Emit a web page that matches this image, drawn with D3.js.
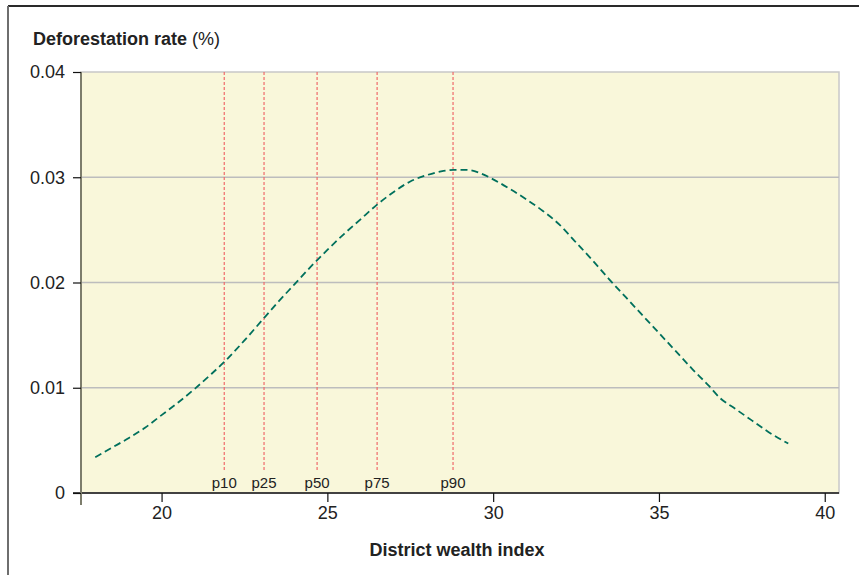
<!DOCTYPE html>
<html>
<head>
<meta charset="utf-8">
<script src="https://cdn.jsdelivr.net/npm/d3@7"></script>
<style>
  body { margin: 0; background: #fff; }
  svg { display: block; font-family: "Liberation Sans", Arial, sans-serif; }
</style>
</head>
<body>
<div id="chart"></div>
<script>
// values
const wealthIndex = [18.0, 18.5, 19.0, 19.5, 20.0, 20.5, 21.0, 21.5, 22.0, 22.5, 23.0, 23.5, 24.0, 24.5,
  25.0, 25.5, 26.0, 26.5, 27.0, 27.5, 28.0, 28.5, 28.8, 29.2, 29.6, 30.0, 30.5, 31.0, 31.5, 32.0,
  32.5, 33.0, 33.5, 34.0, 34.5, 35.0, 35.5, 36.0, 36.5, 36.85, 37.3, 37.8, 38.3, 38.9];
const deforestation = [0.0034, 0.0043, 0.0052, 0.0062, 0.0074, 0.0086, 0.0099, 0.0113, 0.0128, 0.0145,
  0.0163, 0.0181, 0.0198, 0.0215, 0.0231, 0.0246, 0.0260, 0.0274, 0.0286, 0.0296, 0.0302, 0.0306,
  0.0307, 0.0307, 0.0304, 0.0298, 0.0289, 0.0279, 0.0268, 0.0255, 0.0238, 0.0221, 0.0203, 0.0186,
  0.0169, 0.0152, 0.0135, 0.0118, 0.0102, 0.0090, 0.0080, 0.0069, 0.0058, 0.0047];
const pctLabels = ["p10", "p25", "p50", "p75", "p90"];
const pctValues = [21.89, 23.09, 24.69, 26.50, 28.79];
const xTicks = [20, 25, 30, 35, 40];
const yTicks = [0, 0.01, 0.02, 0.03, 0.04];

const data = wealthIndex.map((x, i) => ({x: x, y: deforestation[i]}));

const width = 859, height = 576;
let margin = {top: 72, right: 20, bottom: 83, left: 81};

const svg = d3.select("#chart").append("svg")
  .attr("width", width)
  .attr("height", height);

let x = d3.scaleLinear()
  .domain([17.57, 40.43])
  .range([margin.left, width - margin.right]);

let y = d3.scaleLinear()
  .domain([0, 0.04])
  .range([height - margin.bottom, margin.top]);

// outer frame (top + left only)
svg.append("line")
  .attr("x1", 8).attr("x2", width).attr("y1", 6).attr("y2", 6)
  .attr("stroke", "#2a2a2a").attr("stroke-width", 2);
svg.append("line")
  .attr("x1", 8).attr("x2", 8).attr("y1", 6).attr("y2", height - 1)
  .attr("stroke", "#6e6e6e").attr("stroke-width", 2);

// plot background
svg.append("rect")
  .attr("x", x.range()[0]).attr("y", y(0.04))
  .attr("width", x.range()[1] - x.range()[0])
  .attr("height", y(0) - y(0.04))
  .attr("fill", "#f9f7da")
  .attr("stroke", "#c8c8c8")
  .attr("stroke-width", 1.5);

// grid lines
svg.append("g")
  .selectAll("line")
  .data(yTicks.filter(d => d > 0 && d < 0.04))
  .join("line")
  .attr("x1", x.range()[0]).attr("x2", x.range()[1])
  .attr("y1", d => y(d)).attr("y2", d => y(d))
  .attr("stroke", "#bdbdbd").attr("stroke-width", 1.5);

// percentile lines
const pct = svg.append("g");
pct.selectAll("line")
  .data(pctValues)
  .join("line")
  .attr("x1", d => x(d)).attr("x2", d => x(d))
  .attr("y1", y(0.04)).attr("y2", y(0) - 23)
  .attr("stroke", "#f06a6a")
  .attr("stroke-width", 1.2)
  .attr("stroke-dasharray", "3,2");
pct.selectAll("text")
  .data(pctValues)
  .join("text")
  .attr("x", d => x(d))
  .attr("y", y(0) - 5)
  .attr("text-anchor", "middle")
  .attr("font-size", 15)
  .attr("fill", "#222")
  .text((d, i) => pctLabels[i]);

// curve
svg.append("path")
  .datum(data)
  .attr("fill", "none")
  .attr("stroke", "#00705c")
  .attr("stroke-width", 1.8)
  .attr("stroke-dasharray", "7,4")
  .attr("d", d3.line()
    .x(d => x(d.x))
    .y(d => y(d.y))
    .curve(d3.curveMonotoneX));

// x axis
const gx = svg.append("g")
  .attr("transform", `translate(0,${y(0)})`)
  .call(d3.axisBottom(x).tickValues(xTicks).tickSize(9).tickSizeOuter(0).tickPadding(4))
  .call(g => g.select(".domain").attr("stroke", "#111").attr("stroke-width", 1.5)
    .attr("d", `M${margin.left - 8},0H${x.range()[1]}`));
gx.selectAll(".tick line").attr("stroke", "#111").attr("stroke-width", 1.2);
gx.selectAll(".tick text").attr("font-size", 18).attr("fill", "#222")
  .attr("font-family", "Liberation Sans, Arial, sans-serif");

// y axis
const gy = svg.append("g")
  .attr("transform", `translate(${margin.left},0)`)
  .call(d3.axisLeft(y).tickValues(yTicks).tickFormat(d => d === 0 ? "0" : d3.format(".2f")(d))
    .tickSize(8).tickSizeOuter(0).tickPadding(8))
  .call(g => g.select(".domain").attr("stroke", "#7d7d6c").attr("stroke-width", 2)
    .attr("d", `M0,${y(0.04)}V${y(0) + 12}`));
gy.selectAll(".tick line").attr("stroke", "#111").attr("stroke-width", 1.2);
gy.selectAll(".tick text").attr("font-size", 18).attr("fill", "#222")
  .attr("font-family", "Liberation Sans, Arial, sans-serif");

// titles
const yTitle = svg.append("text")
  .attr("x", 33).attr("y", 45)
  .attr("font-size", 18)
  .attr("fill", "#222");
yTitle.append("tspan").attr("font-weight", "bold").text("Deforestation rate");
yTitle.append("tspan").text(" (%)");

svg.append("text")
  .attr("x", 457).attr("y", 556)
  .attr("text-anchor", "middle")
  .attr("font-size", 18)
  .attr("font-weight", "bold")
  .attr("fill", "#222")
  .text("District wealth index");
</script>
</body>
</html>
